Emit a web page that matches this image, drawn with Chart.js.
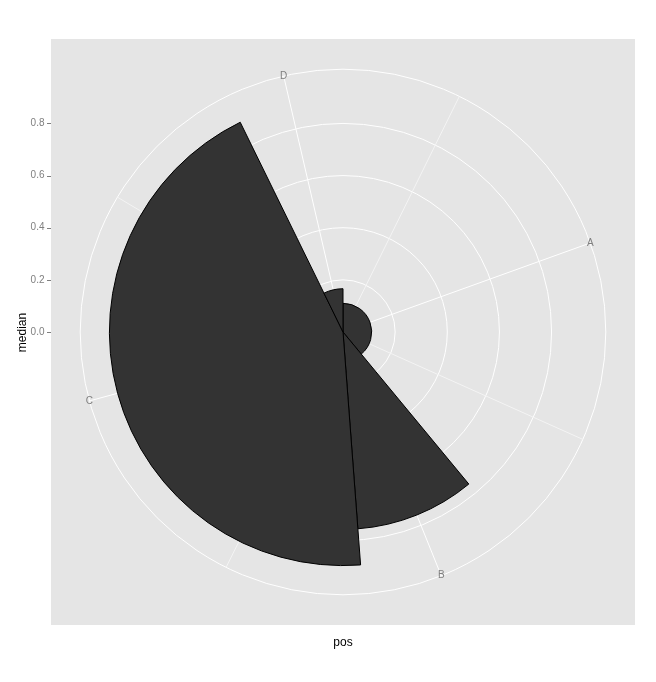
<!DOCTYPE html>
<html><head><meta charset="utf-8">
<script src="https://cdn.jsdelivr.net/npm/chart.js@4/dist/chart.umd.min.js"></script>
<style>html,body{margin:0;padding:0;background:#fff;} #wrap{width:656px;height:682px;position:relative;}</style>
</head><body><div id="wrap"><canvas id="c"></canvas></div>
<script>
// ---- data ----
const categories = ['A', 'B', 'C', 'D'];
const medians = [0.11, 0.757, 0.896, 0.166];
const widths = [0.39, 0.098, 0.4395, 0.0725];
const rTickValues = [0, 0.2, 0.4, 0.6, 0.8];
const rTickLabels = ['0.0', '0.2', '0.4', '0.6', '0.8'];
const xTitle = 'pos';
const yTitle = 'median';

// ---- derived (ggplot coord_polar conventions) ----
const total = widths.reduce((a, b) => a + b, 0);
const pos = [];
{ let acc = 0; widths.forEach(w => { pos.push(acc + w / 2); acc += w; }); }
const angles = widths.map(w => w / total * 360);
const maxMedian = Math.max(...medians);
const rScaleMax = maxMedian / 0.4 * 0.5;   // data max sits at 0.4 of panel, panel half = 0.5
const rOuter = maxMedian / 0.4 * 0.45;     // outer theta circle at 0.45
function minorBreaks(b, lo, hi) {
  const bd = b[1] - b[0];
  const bb = b.slice();
  if (lo < bb[0]) bb.unshift(bb[0] - bd);
  if (hi > bb[bb.length - 1]) bb.push(bb[bb.length - 1] + bd);
  const out = [];
  for (let i = 0; i < bb.length - 1; i++) out.push((bb[i] + bb[i + 1]) / 2);
  return out.filter(v => v >= lo && v <= hi);
}
const minorPos = minorBreaks(pos, 0, total);

const FONT = '"Liberation Sans", Arial, sans-serif';
const GREY = '#7F7F7F';

function thetaOf(scale, p) {
  return scale.getIndexAngle(0) + p / total * Math.PI * 2 - Math.PI / 2;
}

const polarDecor = {
  id: 'polarDecor',
  beforeDraw(chart) {
    const ctx = chart.ctx, a = chart.chartArea;
    ctx.save();
    ctx.fillStyle = '#FFFFFF';
    ctx.fillRect(0, 0, chart.width, chart.height);
    ctx.fillStyle = '#E5E5E5';
    ctx.fillRect(a.left, a.top - 1, a.right - a.left, a.bottom - a.top + 1);
    ctx.restore();
  },
  beforeDatasetsDraw(chart) {
    const ctx = chart.ctx, s = chart.scales.r;
    const R = s.getDistanceFromCenterForValue(rOuter);
    ctx.save();
    const spoke = (p, color, lw) => {
      const t = thetaOf(s, p);
      ctx.beginPath();
      ctx.moveTo(s.xCenter, s.yCenter);
      ctx.lineTo(s.xCenter + Math.cos(t) * R, s.yCenter + Math.sin(t) * R);
      ctx.strokeStyle = color; ctx.lineWidth = lw; ctx.stroke();
    };
    pos.forEach(p => spoke(p, '#FFFFFF', 1));
    minorPos.forEach(p => spoke(p, '#F4F4F4', 1));
    ctx.restore();
  },
  afterDatasetsDraw(chart) {
    const ctx = chart.ctx, s = chart.scales.r, a = chart.chartArea;
    const R = s.getDistanceFromCenterForValue(rOuter);
    ctx.save();
    // theta labels
    ctx.font = '10px ' + FONT;
    ctx.fillStyle = GREY;
    ctx.textAlign = 'center';
    ctx.textBaseline = 'middle';
    pos.forEach((p, i) => {
      const t = thetaOf(s, p);
      ctx.fillText(categories[i], s.xCenter + Math.cos(t) * R, s.yCenter + Math.sin(t) * R);
    });
    // left r axis
    ctx.textAlign = 'right';
    rTickValues.forEach((v, i) => {
      const y = s.yCenter - s.getDistanceFromCenterForValue(v);
      ctx.fillStyle = GREY;
      ctx.fillText(rTickLabels[i], a.left - 6.5, y);
      ctx.beginPath();
      ctx.moveTo(a.left - 4, Math.round(y) + 0.5);
      ctx.lineTo(a.left, Math.round(y) + 0.5);
      ctx.strokeStyle = GREY; ctx.lineWidth = 1; ctx.stroke();
    });
    // axis titles
    ctx.fillStyle = '#000000';
    ctx.font = '12px ' + FONT;
    ctx.textAlign = 'center';
    ctx.textBaseline = 'alphabetic';
    ctx.fillText(xTitle, (a.left + a.right) / 2, a.bottom + 20.5);
    ctx.translate(a.left - 25.5, (a.top + a.bottom) / 2);
    ctx.rotate(-Math.PI / 2);
    ctx.fillText(yTitle, 0, 0);
    ctx.restore();
  }
};

new Chart(document.getElementById('c'), {
  type: 'polarArea',
  data: {
    labels: categories,
    datasets: [{
      data: medians,
      angle: (ctx) => angles[ctx.dataIndex],
      backgroundColor: '#333333',
      borderColor: '#000000',
      borderWidth: 1
    }]
  },
  options: {
    responsive: true,
    maintainAspectRatio: false,
    animation: false,
    events: [],
    layout: { padding: { left: 51, top: 40, right: 21, bottom: 57 } },
    plugins: { legend: { display: false }, tooltip: { enabled: false }, title: { display: false } },
    scales: {
      r: {
        min: 0,
        max: rScaleMax,
        startAngle: 0,
        ticks: { display: false },
        grid: { color: '#FFFFFF', lineWidth: 1, circular: true },
        angleLines: { display: false },
        pointLabels: { display: false },
        afterBuildTicks: (scale) => {
          scale.ticks = rTickValues.concat([rOuter]).map(v => ({ value: v }));
        }
      }
    }
  },
  plugins: [polarDecor]
});
</script>
</body></html>
